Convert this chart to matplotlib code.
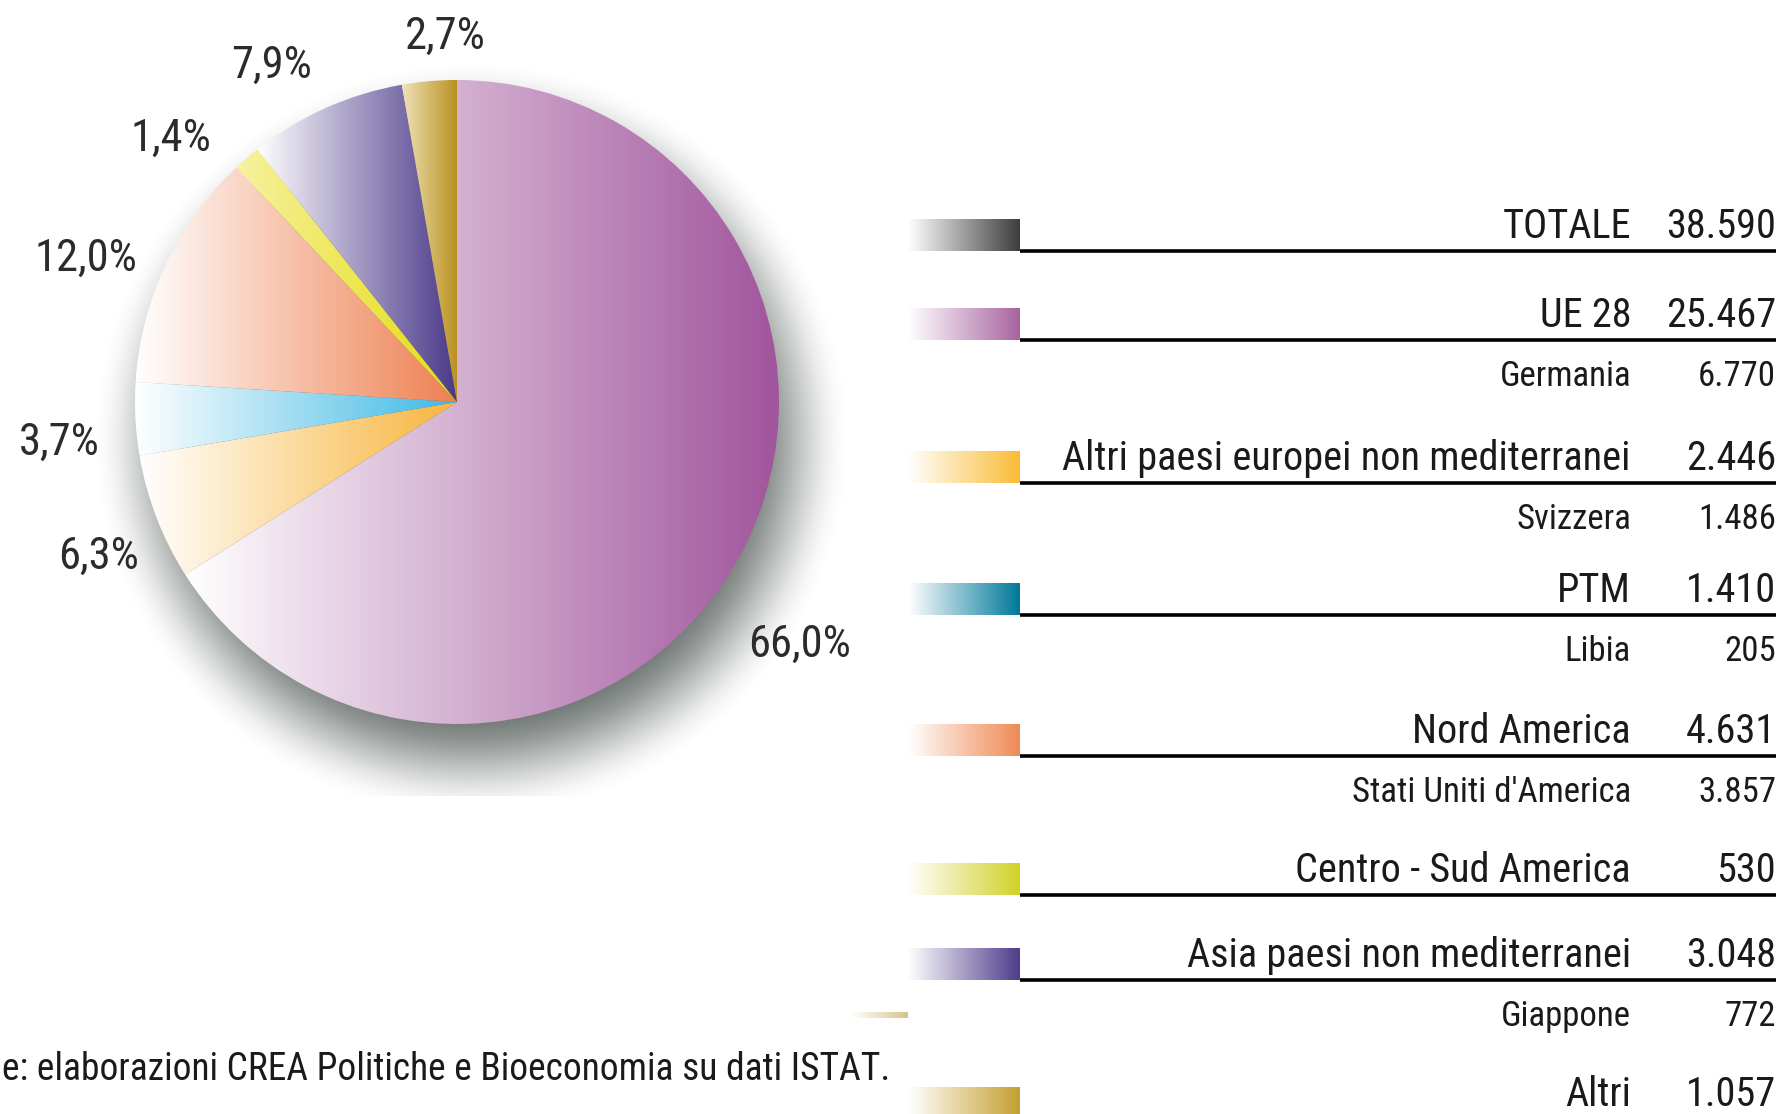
import numpy as np
import matplotlib
matplotlib.use("Agg")
import matplotlib.pyplot as plt
from matplotlib.colors import to_rgb

plt.rcParams['font.family'] = ['Roboto Condensed', 'Liberation Sans Narrow', 'DejaVu Sans']

# dati (export agroalimentare per area, milioni di euro)
area_names = ['UE 28', 'Altri paesi europei non mediterranei', 'PTM', 'Nord America',
              'Centro - Sud America', 'Asia paesi non mediterranei', 'Altri']
area_values = [25467, 2446, 1410, 4631, 530, 3048, 1057]
totale = 38590
sub_names = ['Germania', 'Svizzera', 'Libia', "Stati Uniti d'America", None, 'Giappone', None]
sub_values = [6770, 1486, 205, 3857, None, 772, None]
pie_colors = ['#a1559c', '#f7b53c', '#3fb9e4', '#ee8050', '#e6dc10', '#4a3889', '#b8901c']
pie_start = ['white', 'white', 'white', 'white', '#f6f2a0', 'white', '#efe2b8']
swatch_colors = ['#a8649f', '#f9bc37', '#00789a', '#ef8a55', '#d3d12a', '#4e3c8a', '#c4a030']
source = "e: elaborazioni CREA Politiche e Bioeconomia su dati ISTAT."

W, H = 1791, 1114


def fmt(v):
    return f"{v:,}".replace(",", ".")


def Y(y):  # coordinate immagine -> dati
    return H - y


def hgrad(ax, x0, x1, y0, y1, color, clip=None, z=2, start='white'):
    c0 = np.array(to_rgb(start))
    c1 = np.array(to_rgb(color))
    t = np.linspace(0, 1, 256)
    img = c0[None, None, :] * (1 - t)[None, :, None] + c1[None, None, :] * t[None, :, None]
    im = ax.imshow(img, extent=[x0, x1, y0, y1], origin='lower', aspect='auto',
                   interpolation='bilinear', zorder=z)
    if clip is not None:
        im.set_clip_path(clip)
    return im


fig = plt.figure(figsize=(W / 100, H / 100), dpi=100)
ax = fig.add_axes([0, 0, 1, 1])

cx, cy, R = 457, Y(402), 322

## ombra sfumata
xs = np.arange(0, 900)
ys = np.arange(Y(796), H)
gx, gy = np.meshgrid(xs, ys)
d = np.hypot(gx - (cx + 14), gy - (cy - 38))
w = 58
s = np.clip((d - (R - w)) / (2 * w), 0, 1)
alpha = 0.9 * (1 - s * s * (3 - 2 * s))
shadow = np.zeros(gx.shape + (4,))
shadow[..., 0] = 0.36
shadow[..., 1] = 0.39
shadow[..., 2] = 0.38
shadow[..., 3] = alpha
ax.imshow(shadow, extent=[0, 900, Y(796), H], origin='lower', aspect='auto', zorder=1)

## torta
wedges, _ = ax.pie(area_values, startangle=90, counterclock=False, center=(cx, cy),
                   radius=R, frame=True, wedgeprops=dict(linewidth=0))
for wd, col, st in zip(wedges, pie_colors, pie_start):
    ext = wd.get_path().get_extents()
    wd.set_facecolor('none')
    hgrad(ax, ext.x0, ext.x1, ext.y0, ext.y1, col, clip=wd, z=2, start=st)

## etichette percentuali
pct_pos = [(800, 645), (99, 557), (59, 443), (86, 259), (171, 139), (272, 66), (445, 37)]
for v, (px, py) in zip(area_values, pct_pos):
    lab = f"{100 * v / totale:.1f}%".replace(".", ",")
    ax.text(px, Y(py), lab, ha='center', va='center', fontsize=32, color='#2b2b2b', zorder=5)

## legenda a destra
line_y = [251, 340, 483, 615, 756, 895, 980, 1119]
sw_x0, sw_x1 = 908, 1020
lab_x, val_x, line_x1 = 1631, 1776, 1776

rows = [('TOTALE', totale, '#3c3c3c', None, None)]
for n, v, c, sn, sv in zip(area_names, area_values, swatch_colors, sub_names, sub_values):
    rows.append((n, v, c, sn, sv))

for (n, v, c, sn, sv), ly in zip(rows, line_y):
    hgrad(ax, sw_x0, sw_x1, Y(ly), Y(ly - 32), c, z=3)
    if ly < H:
        ax.plot([sw_x1, line_x1], [Y(ly), Y(ly)], color='black', lw=2.6,
                solid_capstyle='butt', zorder=4)
    ax.text(lab_x, Y(ly - 13), n, ha='right', va='baseline', fontsize=29, color='#1a1a1a')
    ax.text(val_x, Y(ly - 13), fmt(v), ha='right', va='baseline', fontsize=29, color='#1a1a1a')
    if sn is not None:
        ax.text(lab_x, Y(ly + 46), sn, ha='right', va='baseline', fontsize=25, color='#1a1a1a')
        ax.text(val_x, Y(ly + 46), fmt(sv), ha='right', va='baseline', fontsize=25, color='#1a1a1a')

## piccola barra e fonte
hgrad(ax, 851, 908, Y(1018), Y(1012), '#d8c48a', z=3)
ax.text(2, Y(1070), source, ha='left', va='center', fontsize=27, color='#1a1a1a')

ax.set_xlim(0, W)
ax.set_ylim(0, H)
ax.axis('off')

fig.savefig("out.png", dpi=100)
